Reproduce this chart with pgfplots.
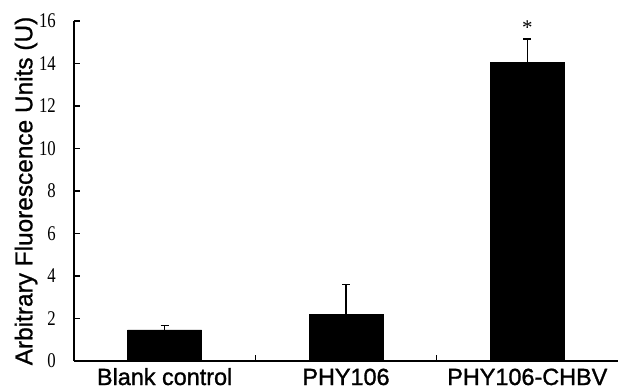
\documentclass[border=0pt]{standalone}
\usepackage{fontspec}
\usepackage{pgfplots}
\pgfplotsset{compat=1.18}
\setmainfont{Liberation Sans}
\newfontfamily\catfont[FakeBold=1.2]{Liberation Sans}
\newfontfamily\labfont[FakeBold=0.9]{Liberation Sans}
\newfontfamily\numfont[FakeStretch=0.8]{Liberation Serif}
\newfontfamily\starfont{Liberation Serif}
\begin{document}
\begin{tikzpicture}
\begin{axis}[
  scale only axis, width=544bp, height=340bp,
  xmin=-0.5, xmax=2.5, ymin=0, ymax=16,
  axis x line=bottom, axis y line=left,
  axis line style={-, line width=1.2bp, black},
  tick align=inside,
  ytick={0,2,...,16}, yticklabels={0,2,4,6,8,10,12,14,16},
  yticklabel style={font=\fontsize{21}{21}\selectfont\numfont, inner sep=0pt, xshift=-18bp},
  major tick length=6bp, minor tick length=6bp,
  ytick style={line width=1.2bp, black},
  xtick={0,1,2}, xticklabels={Blank control, PHY106, PHY106-CHBV},
  every major x tick/.append style={draw=none},
  minor xtick={0.5,1.5},
  every minor tick/.append style={line width=1.2bp, black},
  xticklabel style={font=\fontsize{23.5}{23.5}\selectfont\catfont, anchor=base, yshift=-24bp},
  ylabel={Arbitrary Fluorescence Units (U)},
  every axis y label/.style={at={(rel axis cs:0,0.5)}, xshift=-48bp, rotate=90, anchor=center, font=\fontsize{24.5}{24.5}\selectfont\labfont},
  clip=false
]
\coordinate (O) at (rel axis cs:0,0);
\addplot[ybar, bar width=74bp, fill=black, draw=black,
  error bars/.cd, y dir=plus, y explicit,
  error mark=-,
  error bar style={line width=1.3bp, black},
  error mark options={rotate=90, mark size=4bp, line width=1.3bp, black}]
  coordinates {(0,1.46) +- (0,0.20) (1,2.21) +- (0,1.40) (2,14.04) +- (0,1.11)};
\node[font=\fontsize{21}{21}\selectfont\starfont] at (axis cs:2,15.7) {*};
\end{axis}
\pgfresetboundingbox
\path[use as bounding box] (O) ++(-74bp,-28bp) rectangle ++(618bp,389bp);
\end{tikzpicture}
\end{document}
